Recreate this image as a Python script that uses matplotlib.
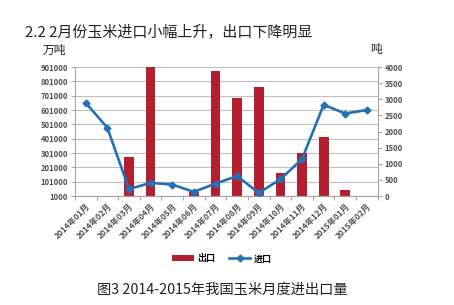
import numpy as np
import matplotlib
matplotlib.use('Agg')
import matplotlib.pyplot as plt
from matplotlib.ticker import FixedLocator

plt.rcParams['font.family'] = ['Noto Sans CJK SC', 'DejaVu Sans']

# Datos
meses = ['2014年01月', '2014年02月', '2014年03月', '2014年04月', '2014年05月',
         '2014年06月', '2014年07月', '2014年08月', '2014年09月', '2014年10月',
         '2014年11月', '2014年12月', '2015年01月', '2015年02月']
exportacion = [0, 0, 275000, 901000, 0, 31000, 875000, 683000, 764000,
               164000, 299000, 415000, 45000, 0]
importacion = [2890, 2120, 220, 410, 360, 130, 390, 620, 100, 520,
               1150, 2830, 2560, 2670]

color_barra = '#B31F2E'
color_linea = '#2470B8'
color_texto = '#505050'

fig = plt.figure(figsize=(4.54, 3.05), dpi=100)
ax = fig.add_axes([0.165, 0.357, 0.667, 0.423])
x = np.arange(len(meses))

ax.bar(x, exportacion, width=0.45, color=color_barra, label='出口', zorder=2)
ax.set_ylim(1000, 901000)
ax.set_yticks(np.arange(1000, 901001, 100000))
ax.set_xlim(-0.5, len(meses) - 0.5)
ax.grid(axis='y', color='#BFBFBF', linewidth=0.8, zorder=0)
ax.set_axisbelow(True)

ax2 = ax.twinx()
ax2.plot(x, importacion, color=color_linea, linewidth=1.9, marker='D',
         markersize=3.5, label='进口', zorder=3)
ax2.set_ylim(0, 4000)
ax2.set_yticks(np.arange(0, 4001, 500))

for a in (ax, ax2):
    a.spines['top'].set_visible(False)
    a.spines['left'].set_color('#A6A6A6')
    a.spines['right'].set_color('#A6A6A6')
    a.spines['bottom'].set_color('#A6A6A6')
    a.tick_params(axis='y', labelsize=5.5, colors='#A6A6A6', labelcolor=color_texto,
                  length=3, width=0.8, pad=2)
    for t in a.get_yticklabels():
        t.set_fontweight('bold')
ax2.spines['left'].set_visible(False)
ax.spines['right'].set_visible(False)

# marcas del eje x entre categorías, etiquetas en el centro
ax.set_xticks(x)
ax.set_xticklabels(meses, rotation=45, ha='right', va='top',
                   rotation_mode='anchor', fontsize=6, color=color_texto,
                   fontweight='bold')
ax.tick_params(axis='x', length=0, pad=4)
ax.xaxis.set_minor_locator(FixedLocator(np.arange(-0.5, len(meses), 1.0)))
ax.tick_params(axis='x', which='minor', length=3, color='#A6A6A6', width=0.8)

# textos
fig.text(25 / 454, 1 - 33 / 305, '2.2 2月份玉米进口小幅上升，出口下降明显',
         fontsize=10.8, va='center', ha='left', color='#222222')
fig.text(43 / 454, 1 - 50 / 305, '万吨', fontsize=8.5, va='center', ha='left',
         color='#222222')
fig.text(376 / 454, 1 - 50 / 305, '吨', fontsize=8.5, va='center', ha='center',
         color='#222222')
fig.text(222 / 454, 1 - 290 / 305, '图3 2014-2015年我国玉米月度进出口量',
         fontsize=10.3, va='center', ha='center', color='#222222')

h1, l1 = ax.get_legend_handles_labels()
h2, l2 = ax2.get_legend_handles_labels()
fig.legend(h1 + h2, l1 + l2, loc='center', bbox_to_anchor=(222 / 454, 1 - 259 / 305),
           ncol=2, frameon=False, handlelength=2.4,
           handleheight=0.6, columnspacing=1.5, handletextpad=0.4,
           prop={'weight': 'bold', 'size': 6.5})

fig.savefig('out.png', dpi=100)
